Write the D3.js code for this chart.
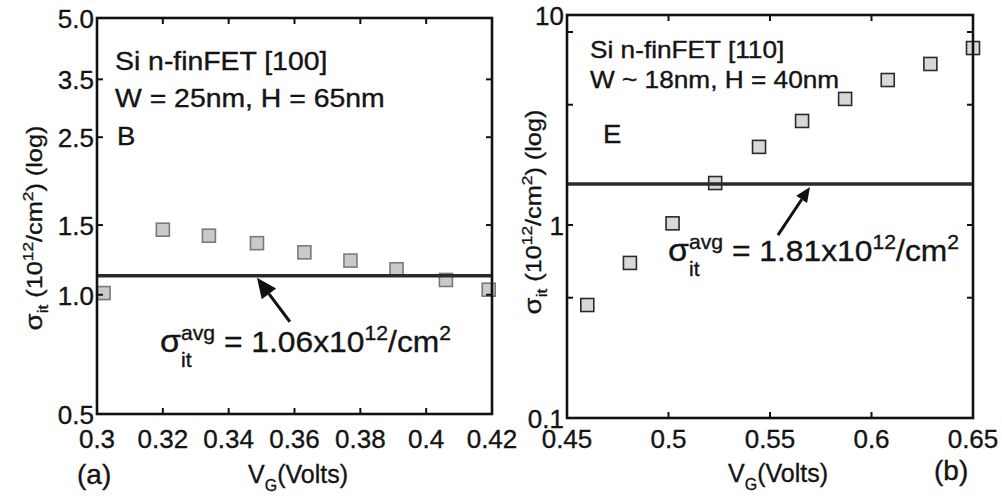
<!DOCTYPE html>
<html>
<head>
<meta charset="utf-8">
<script src="https://cdn.jsdelivr.net/npm/d3@7"></script>
<style>
  body { margin: 0; background: #fff; }
  svg { display: block; }
  text { font-family: "Liberation Sans", Arial, sans-serif; fill: #141414; white-space: pre;
         stroke: #141414; stroke-width: 0.35; }
</style>
</head>
<body>
<div id="chart"></div>
<script>
// ---- panel (a) : Si n-finFET [100] ----
const vgA = [0.302, 0.320, 0.334, 0.3486, 0.363, 0.377, 0.391, 0.406, 0.419];
const sigmaA = [1.01, 1.46, 1.41, 1.35, 1.28, 1.22, 1.16, 1.09, 1.03];
const avgA = 1.117;
const xTicksA = [0.3, 0.32, 0.34, 0.36, 0.38, 0.4, 0.42];
const xLabelsA = ["0.3", "0.32", "0.34", "0.36", "0.38", "0.4", "0.42"];
const yTicksA = [0.5, 1.0, 1.5, 2.5, 3.5, 5.0];
const yLabelsA = ["0.5", "1.0", "1.5", "2.5", "3.5", "5.0"];
const arrowA = [[0.3586, 0.855], [0.3486, 1.104]];

// ---- panel (b) : Si n-finFET [110] ----
const vgB = [0.46, 0.481, 0.502, 0.523, 0.5446, 0.5658, 0.587, 0.608, 0.629, 0.65];
const sigmaB = [0.385, 0.636, 1.02, 1.65, 2.54, 3.46, 4.50, 5.64, 6.83, 8.26];
const avgB = 1.63;
const xTicksB = [0.45, 0.5, 0.55, 0.6, 0.65];
const xLabelsB = ["0.45", "0.5", "0.55", "0.6", "0.65"];
const yTicksB = [0.1, 0.42, 1, 4.2, 10];
const yLabelValsB = [0.1, 1, 12.25];
const yLabelsB = ["0.1", "1", "10"];
const arrowB = [[0.5539, 0.887], [0.5697, 1.574]];

const svg = d3.select("#chart").append("svg").attr("width", 1002).attr("height", 498);

// places text pieces one after the other (sub/superscripts), returns group + width
function rich(parent, parts) {
  const grp = parent.append("g");
  let cx = 0, stackStart = 0, stackW = 0;
  parts.forEach(p => {
    const px = p.stack ? stackStart : cx;
    const t = grp.append("text").attr("x", px).attr("y", p.dy || 0)
      .attr("font-size", p.size).text(p.t);
    if (p.family) t.attr("font-family", p.family);
    const w = t.node().getComputedTextLength();
    if (p.stack) {
      cx = stackStart + Math.max(stackW, w);
    } else {
      stackStart = cx; stackW = w; cx += w;
    }
  });
  return { g: grp, w: cx };
}

function label(x, y, sx, parts) {
  const outer = svg.append("g").attr("transform", `translate(${x},${y}) scale(${sx},1)`);
  rich(outer, parts);
}

function arrow(g, x, y, pts, headLen, headW) {
  const x0 = x(pts[0][0]), y0 = y(pts[0][1]);
  const x1 = x(pts[1][0]), y1 = y(pts[1][1]);
  const a = Math.atan2(y1 - y0, x1 - x0);
  const bx = x1 - headLen * Math.cos(a), by = y1 - headLen * Math.sin(a);
  g.append("line").attr("x1", x0).attr("y1", y0).attr("x2", bx).attr("y2", by)
    .attr("stroke", "#111").attr("stroke-width", 3);
  const nx = -Math.sin(a) * headW / 2, ny = Math.cos(a) * headW / 2;
  g.append("path")
    .attr("d", `M${x1},${y1}L${bx + nx},${by + ny}L${bx - nx},${by - ny}Z`)
    .attr("fill", "#111");
}

function panel(c) {
  const x = d3.scaleLinear().domain(c.xDom).range([c.left, c.right]);
  const y = d3.scaleLog().domain(c.yDom).range([c.bottom, c.top]);
  const g = svg.append("g");

  g.selectAll("rect.pt").data(c.vg).enter().append("rect")
    .attr("class", "pt")
    .attr("x", d => x(d) - 6.5)
    .attr("y", (d, i) => y(c.sig[i]) - 6.5)
    .attr("width", 13).attr("height", 13)
    .attr("fill", c.ptFill).attr("stroke", c.ptStroke).attr("stroke-width", 1.6);

  // average line
  g.append("line").attr("x1", c.left).attr("x2", c.right)
    .attr("y1", y(c.avg)).attr("y2", y(c.avg))
    .attr("stroke", "#2a2a2a").attr("stroke-width", 3.5);

  // frame
  g.append("rect").attr("x", c.left).attr("y", c.top)
    .attr("width", c.right - c.left).attr("height", c.bottom - c.top)
    .attr("fill", "none").attr("stroke", "#111").attr("stroke-width", 2.6);

  // inward ticks, all four sides
  const tl = 6;
  const xIn = c.xTicks.slice(1, -1);
  xIn.forEach(v => {
    g.append("line").attr("x1", x(v)).attr("x2", x(v)).attr("y1", c.bottom).attr("y2", c.bottom - tl)
      .attr("stroke", "#111").attr("stroke-width", 2);
    g.append("line").attr("x1", x(v)).attr("x2", x(v)).attr("y1", c.top).attr("y2", c.top + tl)
      .attr("stroke", "#111").attr("stroke-width", 2);
  });
  c.yTicks.filter(v => y(v) > c.top + 3 && y(v) < c.bottom - 3).forEach(v => {
    g.append("line").attr("x1", c.left).attr("x2", c.left + tl).attr("y1", y(v)).attr("y2", y(v))
      .attr("stroke", "#111").attr("stroke-width", 2);
    g.append("line").attr("x1", c.right).attr("x2", c.right - tl).attr("y1", y(v)).attr("y2", y(v))
      .attr("stroke", "#111").attr("stroke-width", 2);
  });

  // tick labels
  g.selectAll("text.xl").data(c.xTicks).enter().append("text")
    .attr("x", d => x(d)).attr("y", 448)
    .attr("text-anchor", "middle").attr("font-size", 26)
    .text((d, i) => c.xLabels[i]);
  g.selectAll("text.yl").data(c.yLabelVals).enter().append("text")
    .attr("x", c.left - 3).attr("y", d => y(d) + 10)
    .attr("text-anchor", "end").attr("font-size", 26)
    .text((d, i) => c.yLabels[i]);

  arrow(g, x, y, c.arrow, c.headLen, c.headW);

  // rotated y title
  const yt = svg.append("g").attr("transform", `translate(${c.yTitleX},${c.yTitleY}) rotate(-90) scale(1.15,1)`);
  const r = rich(yt, [
    { t: "σ", size: 24 }, { t: "it", size: 15, dy: 6 },
    { t: " (10", size: 22 }, { t: "12", size: 15, dy: -9 },
    { t: "/cm", size: 22 }, { t: "2", size: 15, dy: -9 },
    { t: ") (log)", size: 22 }
  ]);
  r.g.attr("transform", `translate(${-r.w / 2},0)`);

  // x title
  const xt = svg.append("g").attr("transform", `translate(${c.xTitleX},${c.xTitleY})`);
  rich(xt, [{ t: "V", size: 25 }, { t: "G", size: 16, dy: 8 }, { t: "(Volts)", size: 25 }]);
  return { x, y };
}

panel({
  xDom: [0.3, 0.42], yDom: [0.5, 5], left: 97, right: 492, top: 18, bottom: 414,
  vg: vgA, sig: sigmaA, avg: avgA, xTicks: xTicksA, xLabels: xLabelsA,
  yTicks: yTicksA, yLabelVals: yTicksA, yLabels: yLabelsA,
  ptFill: "#cacaca", ptStroke: "#7a7a7a", arrow: arrowA, headLen: 20, headW: 18,
  yTitleX: 42, yTitleY: 228, xTitleX: 248, xTitleY: 483
});
panel({
  xDom: [0.45, 0.65], yDom: [0.1, 12.25], left: 567, right: 973, top: 15, bottom: 418,
  vg: vgB, sig: sigmaB, avg: avgB, xTicks: xTicksB, xLabels: xLabelsB,
  yTicks: yTicksB, yLabelVals: yLabelValsB, yLabels: yLabelsB,
  ptFill: "#d8d8d8", ptStroke: "#2a2a2a", arrow: arrowB, headLen: 15, headW: 13,
  yTitleX: 541, yTitleY: 212, xTitleX: 728, xTitleY: 482
});

// in-plot texts
label(115, 70, 1.135, [{ t: "Si n-finFET [100]", size: 25 }]);
label(115, 107, 1.135, [{ t: "W = 25nm, H = 65nm", size: 25 }]);
label(117, 145, 1.1, [{ t: "B", size: 25 }]);
label(590, 58, 1.14, [{ t: "Si n-finFET [110]", size: 23 }]);
label(590, 88, 1.14, [{ t: "W ~ 18nm, H = 40nm", size: 23 }]);
label(603, 143, 1.1, [{ t: "E", size: 25 }]);

const avgParts = v => [
  { t: "σ", size: 32 }, { t: "it", size: 20, dy: 15 }, { t: "avg", size: 20, dy: -12, stack: true },
  { t: " = " + v + "x10", size: 30 }, { t: "12", size: 20, dy: -12 },
  { t: "/cm", size: 30 }, { t: "2", size: 20, dy: -12 }
];
label(160, 352, 1.06, avgParts("1.06"));
label(668, 261, 1.06, avgParts("1.81"));

// panel letters
label(77, 484, 1, [{ t: "(a)", size: 28, family: "DejaVu Sans" }]);
label(934, 480, 1, [{ t: "(b)", size: 28, family: "DejaVu Sans" }]);
</script>
</body>
</html>
